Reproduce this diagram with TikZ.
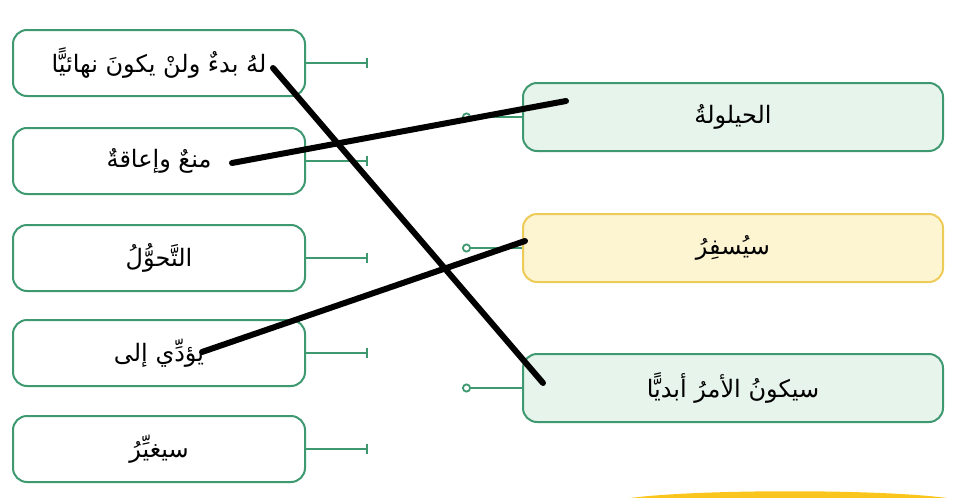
\documentclass[tikz,border=0pt]{standalone}
\usepackage{fontspec}
\newfontfamily\arabicfont[Script=Arabic]{DejaVu Sans}
\TeXXeTstate=1
\usetikzlibrary{arrows.meta,positioning,calc}
\definecolor{BOX-GREEN}{RGB}{62,152,112}
\definecolor{FILL-GREEN}{RGB}{231,244,236}
\definecolor{BOX-YELLOW}{RGB}{236,204,86}
\definecolor{FILL-YELLOW}{RGB}{253,244,210}
\definecolor{ARC-YELLOW}{RGB}{250,198,30}

\begin{document}
\begin{tikzpicture}[x=1pt,y=-1pt,
  wordbox/.style={draw=BOX-GREEN, line width=2pt, rounded corners=14pt,
    minimum width=292pt, minimum height=66pt, fill=white,
    font=\arabicfont\fontsize{24}{28}\selectfont},
  answerbox/.style={wordbox, minimum width=420pt, minimum height=68pt, fill=FILL-GREEN},
  stub/.style={BOX-GREEN, line width=2.5pt},
  match/.style={black, line width=6pt, line cap=round}]
  \useasboundingbox (0,0) rectangle (975,498);

  % Words (left column)
  \node[wordbox] (L1) at (159,63)  {\beginR لهُ بدءٌ ولنْ يكونَ نهائيًّا\endR};
  \node[wordbox] (L2) at (159,161) {\beginR منعٌ وإعاقةٌ\endR};
  \node[wordbox] (L3) at (159,258) {\beginR التَّحوُّلُ\endR};
  \node[wordbox] (L4) at (159,353) {\beginR يؤدِّي إلى\endR};
  \node[wordbox] (L5) at (159,449) {\beginR سيغيِّرُ\endR};

  % Stubs with bar ends
  \draw[stub, -{Bar[width=10pt]}] (L1.east) -- ++(62,0);
  \draw[stub, -{Bar[width=10pt]}] (L2.east) -- ++(62,0);
  \draw[stub, -{Bar[width=10pt]}] (L3.east) -- ++(62,0);
  \draw[stub, -{Bar[width=10pt]}] (L4.east) -- ++(62,0);
  \draw[stub, -{Bar[width=10pt]}] (L5.east) -- ++(62,0);

  % Meanings (right column)
  \node[answerbox] (R1) at (733,117) {\beginR الحيلولةُ\endR};
  \node[answerbox, draw=BOX-YELLOW, fill=FILL-YELLOW] (R2) at (733,248) {\beginR سيُسفِرُ\endR};
  \node[answerbox] (R3) at (733,388) {\beginR سيكونُ الأمرُ أبديًّا\endR};

  % Stubs with open circles
  \draw[stub, -{Circle[open,length=9pt,width=9pt,line width=1.8pt]}] (R1.west) -- ++(-60,0);
  \draw[stub, -{Circle[open,length=9pt,width=9pt,line width=1.8pt]}] (R2.west) -- ++(-60,0);
  \draw[stub, -{Circle[open,length=9pt,width=9pt,line width=1.8pt]}] (R3.west) -- ++(-60,0);

  % Hand-drawn matching lines
  \draw[match] ($(L1.center)+(114,5)$) -- ($(R3.center)+(-190,-5)$);
  \draw[match] ($(L2.center)+(73,2)$) -- ($(R1.center)+(-167,-16)$);
  \draw[match] ($(L4.center)+(43,-1)$) -- ($(R2.center)+(-208,-7)$);

  % Yellow edge at the bottom
  \fill[ARC-YELLOW] (630,498) .. controls (700,489) and (880,489) .. (947,498) -- cycle;
\end{tikzpicture}
\end{document}
